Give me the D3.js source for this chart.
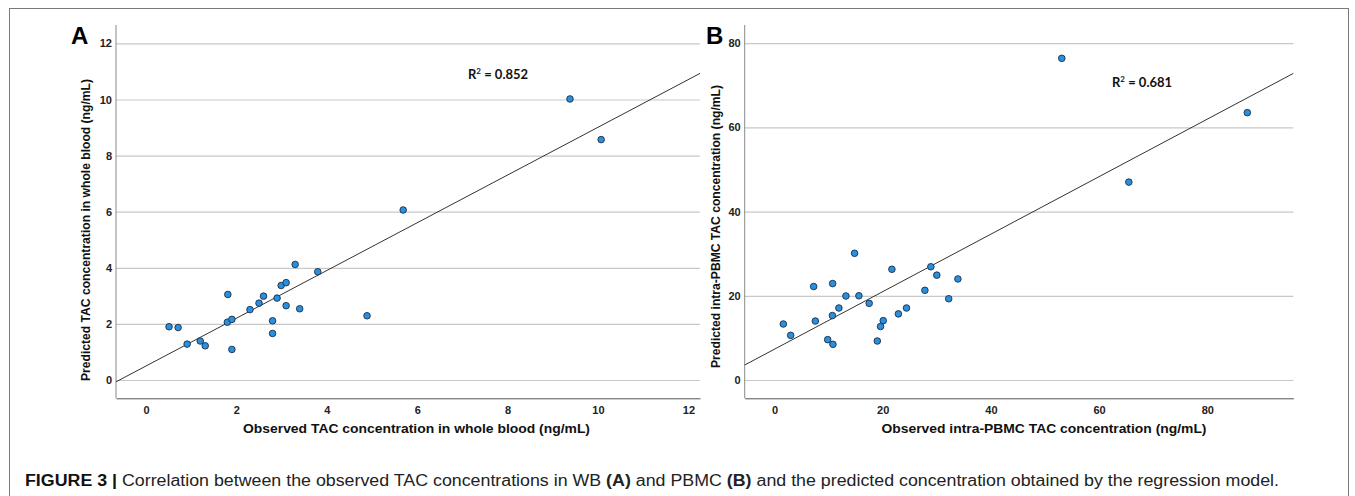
<!DOCTYPE html>
<html>
<head>
  <meta charset="utf-8">
  <title>Observed vs predicted TAC</title>
  <script src="https://d3js.org/d3.v7.min.js"></script>
  <style>
    body { margin: 0; background: #fff; }
    svg { display: block; }
    .tick text { font-family: "Liberation Sans Narrow", "Arial Narrow", "Liberation Sans", Arial, sans-serif; font-weight: bold; font-size: 11px; fill: #222; }
    .grid line { stroke: #c8c8c8; stroke-width: 1.2px; }
    .title { font-family: "Liberation Sans", Arial, sans-serif; font-weight: bold; fill: #111; }
    .r2 { font-family: Lato, "Open Sans", sans-serif; font-weight: bold; font-size: 13px; fill: #111; }
    .panel-label { font-family: "Liberation Sans", Arial, sans-serif; font-weight: bold; font-size: 24px; fill: #000; }
    .caption { font-family: "Liberation Sans", Arial, sans-serif; font-size: 16px; fill: #222; }
  </style>
</head>
<body>
  <svg width="1355" height="496"></svg>
  <script>
    // panel A: whole blood
    const wbObserved  = [0.51, 0.71, 0.91, 1.20, 1.31, 1.81, 1.80, 1.90, 1.90, 2.30, 2.50, 2.60, 2.80, 2.80, 2.90, 2.99, 3.10, 3.10, 3.30, 3.40, 3.80, 4.89, 5.69, 9.38, 10.07];
    const wbPredicted = [1.90, 1.87, 1.28, 1.39, 1.22, 3.05, 2.06, 2.16, 1.09, 2.51, 2.74, 2.99, 2.11, 1.66, 2.92, 3.37, 3.47, 2.65, 4.12, 2.54, 3.86, 2.29, 6.06, 10.02, 8.57];
    const wbTicks = [0, 2, 4, 6, 8, 10, 12];
    const wbFit = [0.50, 0.851];   // intercept, slope
    const wbR2 = "0.852";

    // panel B: intra-PBMC
    const pbmcObserved  = [1.63, 2.99, 7.24, 7.55, 9.83, 10.8, 10.75, 10.7, 11.9, 13.2, 14.8, 15.6, 17.5, 19.0, 19.6, 20.1, 21.7, 22.9, 24.4, 27.8, 28.9, 30.0, 32.2, 33.9, 53.1, 65.5, 87.4];
    const pbmcPredicted = [13.3, 10.6, 22.2, 14.0, 9.58, 8.47, 22.9, 15.3, 17.1, 19.95, 30.1, 20.0, 18.2, 9.26, 12.7, 14.1, 26.3, 15.7, 17.1, 21.3, 26.9, 24.9, 19.3, 24.0, 76.4, 47.0, 63.5];
    const pbmcTicks = [0, 20, 40, 60, 80];
    const pbmcFit = [7.32, 0.683];
    const pbmcR2 = "0.681";

    const svg = d3.select("svg");

    // frame around the figure
    svg.append("rect")
      .attr("x", 9.5).attr("y", 8.5)
      .attr("width", 1339).attr("height", 500)
      .attr("fill", "none").attr("stroke", "#7a7a7a");

    const panels = [
      {
        label: "A", obs: wbObserved, pred: wbPredicted, ticks: wbTicks, fit: wbFit, r2: wbR2,
        xDomain: [-0.664, 12.257], yDomain: [-0.652, 12.656],
        left: 116, right: 700, labelX: 71,
        r2Pos: [468, 79],
        xTitle: "Observed TAC concentration in whole blood (ng/mL)", xTitleX: 416.5, xTitleLen: 347,
        yTitle: "Predicted TAC concentration in whole blood (ng/mL)", yTitleX: 90, yTitleY: 230, yTitleLen: 302
      },
      {
        label: "B", obs: pbmcObserved, pred: pbmcPredicted, ticks: pbmcTicks, fit: pbmcFit, r2: pbmcR2,
        xDomain: [-5.51, 95.9], yDomain: [-4.35, 84.32],
        left: 744.7, right: 1293.3, labelX: 706,
        r2Pos: [1112, 87],
        xTitle: "Observed intra-PBMC TAC concentration (ng/mL)", xTitleX: 1044, xTitleLen: 325,
        yTitle: "Predicted intra-PBMC TAC concentration (ng/mL)", yTitleX: 720, yTitleY: 226.5, yTitleLen: 283
      }
    ];

    const plotTop = 25, plotBottom = 398.3;

    panels.forEach(p => {
      const x = d3.scaleLinear().domain(p.xDomain).range([p.left, p.right]);
      const y = d3.scaleLinear().domain(p.yDomain).range([plotBottom, plotTop]);
      const w = p.right - p.left;

      // horizontal gridlines + y labels
      const yAxis = svg.append("g")
        .attr("class", "grid")
        .attr("transform", `translate(${p.left},0)`)
        .call(d3.axisLeft(y).tickValues(p.ticks).tickSize(-w).tickPadding(4));
      yAxis.select(".domain").remove();

      svg.append("line")
        .attr("x1", p.left).attr("x2", p.left)
        .attr("y1", plotTop).attr("y2", plotBottom)
        .attr("stroke", "#8a8a8a");

      const xAxis = svg.append("g")
        .attr("transform", `translate(0,${plotBottom})`)
        .call(d3.axisBottom(x).tickValues(p.ticks).tickSize(0).tickPadding(8));
      xAxis.select(".domain").attr("stroke", "#555");

      // regression line across the whole plot
      const xs = x.domain();
      svg.append("line")
        .attr("x1", x(xs[0])).attr("y1", y(p.fit[0] + p.fit[1] * xs[0]))
        .attr("x2", x(xs[1])).attr("y2", y(p.fit[0] + p.fit[1] * xs[1]))
        .attr("stroke", "#333").attr("stroke-width", 1);

      svg.append("g")
        .selectAll("circle")
        .data(p.obs.map((d, i) => [d, p.pred[i]]))
        .join("circle")
        .attr("cx", d => x(d[0]))
        .attr("cy", d => y(d[1]))
        .attr("r", 3.3)
        .attr("fill", "#2a8fdc")
        .attr("stroke", "#1a2f48")
        .attr("stroke-width", 0.9);

      const r2 = svg.append("text").attr("class", "r2")
        .attr("x", p.r2Pos[0]).attr("y", p.r2Pos[1]);
      r2.append("tspan").text("R");
      r2.append("tspan").attr("font-size", "8px").attr("dy", -5).text("2");
      r2.append("tspan").attr("dy", 5).text(" = " + p.r2);

      svg.append("text").attr("class", "panel-label")
        .attr("x", p.labelX).attr("y", 44).text(p.label);

      svg.append("text").attr("class", "title")
        .attr("x", p.xTitleX).attr("y", 433)
        .attr("text-anchor", "middle")
        .attr("font-size", "13px")
        .attr("textLength", p.xTitleLen).attr("lengthAdjust", "spacingAndGlyphs")
        .text(p.xTitle);

      svg.append("text").attr("class", "title")
        .attr("transform", `translate(${p.yTitleX},${p.yTitleY}) rotate(-90)`)
        .attr("text-anchor", "middle")
        .attr("font-size", "12px")
        .attr("textLength", p.yTitleLen).attr("lengthAdjust", "spacingAndGlyphs")
        .text(p.yTitle);
    });

    // figure caption
    const cap = svg.append("text").attr("class", "caption")
      .attr("x", 25).attr("y", 486)
      .attr("textLength", 1254).attr("lengthAdjust", "spacingAndGlyphs");
    cap.append("tspan").attr("font-weight", "bold").attr("fill", "#111").text("FIGURE 3 | ");
    cap.append("tspan").text("Correlation between the observed TAC concentrations in WB ");
    cap.append("tspan").attr("font-weight", "bold").text("(A)");
    cap.append("tspan").text(" and PBMC ");
    cap.append("tspan").attr("font-weight", "bold").text("(B)");
    cap.append("tspan").text(" and the predicted concentration obtained by the regression model.");
  </script>
</body>
</html>
